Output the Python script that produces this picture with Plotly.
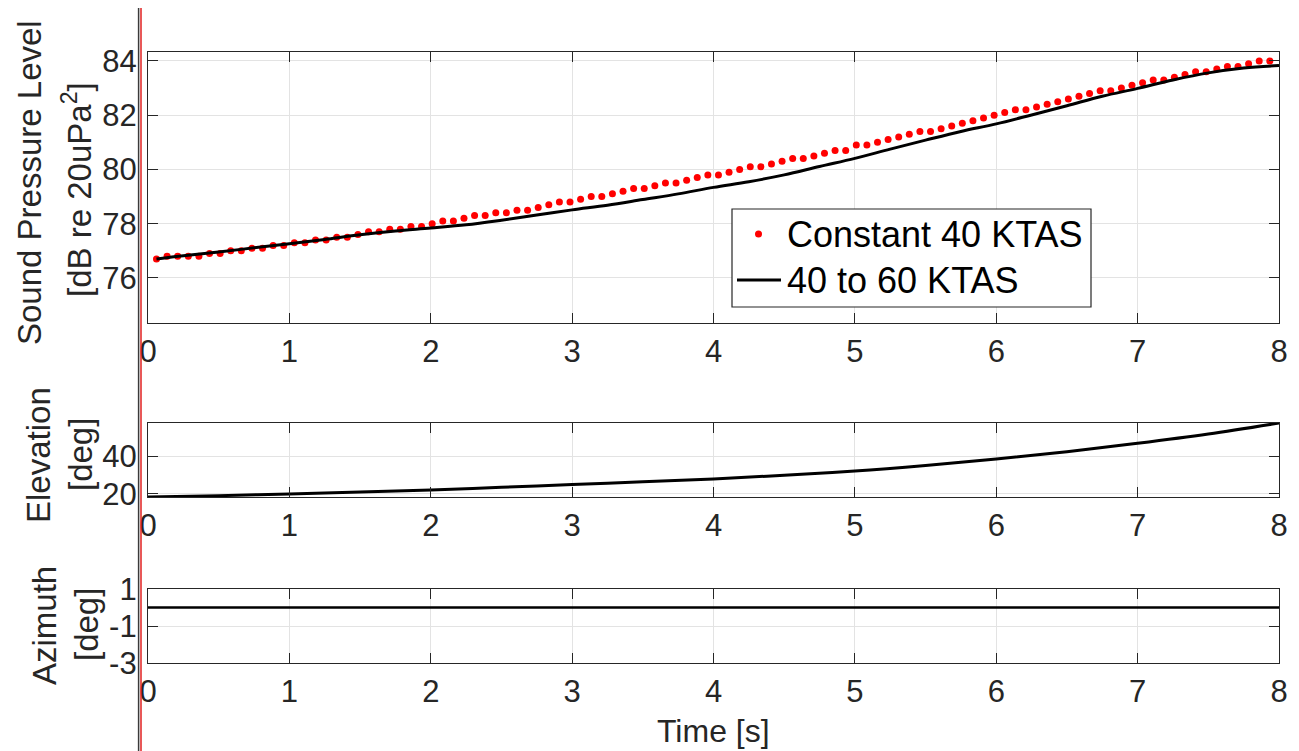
import plotly.graph_objects as go

# ---------------- data ----------------
t_const = [0.06, 0.135, 0.21, 0.285, 0.36, 0.435, 0.51, 0.585, 0.66, 0.735,
           0.81, 0.885, 0.96, 1.035, 1.11, 1.185, 1.26, 1.335, 1.41, 1.485,
           1.56, 1.635, 1.71, 1.785, 1.86, 1.935, 2.01, 2.085, 2.16, 2.235,
           2.31, 2.385, 2.46, 2.535, 2.61, 2.685, 2.76, 2.835, 2.91, 2.985,
           3.06, 3.135, 3.21, 3.285, 3.36, 3.435, 3.51, 3.585, 3.66, 3.735,
           3.81, 3.885, 3.96, 4.035, 4.11, 4.185, 4.26, 4.335, 4.41, 4.485,
           4.56, 4.635, 4.71, 4.785, 4.86, 4.935, 5.01, 5.085, 5.16, 5.235,
           5.31, 5.385, 5.46, 5.535, 5.61, 5.685, 5.76, 5.835, 5.91, 5.985,
           6.06, 6.135, 6.21, 6.285, 6.36, 6.435, 6.51, 6.585, 6.66, 6.735,
           6.81, 6.885, 6.96, 7.035, 7.11, 7.185, 7.26, 7.335, 7.41, 7.485,
           7.56, 7.635, 7.71, 7.785, 7.86, 7.935]
spl_const = [76.7, 76.8, 76.8, 76.8, 76.8, 76.9, 76.9, 77.0, 77.0, 77.1,
             77.1, 77.2, 77.2, 77.3, 77.3, 77.4, 77.4, 77.5, 77.5, 77.6,
             77.7, 77.7, 77.8, 77.8, 77.9, 77.9, 78.0, 78.1, 78.1, 78.2,
             78.3, 78.3, 78.4, 78.4, 78.5, 78.5, 78.6, 78.7, 78.8, 78.8,
             78.9, 79.0, 79.0, 79.1, 79.2, 79.3, 79.3, 79.4, 79.5, 79.5,
             79.6, 79.7, 79.8, 79.8, 79.9, 80.0, 80.1, 80.1, 80.2, 80.3,
             80.4, 80.4, 80.5, 80.6, 80.7, 80.7, 80.9, 80.9, 81.0, 81.1,
             81.2, 81.3, 81.4, 81.4, 81.5, 81.6, 81.7, 81.8, 81.9, 82.0,
             82.1, 82.2, 82.2, 82.3, 82.4, 82.5, 82.6, 82.7, 82.8, 82.9,
             82.9, 83.0, 83.1, 83.2, 83.3, 83.3, 83.4, 83.5, 83.6, 83.6,
             83.7, 83.8, 83.8, 83.9, 84.0, 84.0]

t_accel = [0.06, 0.25, 0.5, 0.75, 1.0, 1.25, 1.5, 1.75, 2.0, 2.25, 2.5,
           2.75, 3.0, 3.25, 3.5, 3.75, 4.0, 4.25, 4.5, 4.75, 5.0, 5.25,
           5.5, 5.75, 6.0, 6.25, 6.5, 6.75, 7.0, 7.25, 7.5, 7.75, 8.0]
spl_accel = [76.70, 76.82, 76.96, 77.11, 77.26, 77.42, 77.59, 77.73, 77.84,
             77.96, 78.13, 78.32, 78.51, 78.68, 78.89, 79.10, 79.34, 79.55,
             79.80, 80.11, 80.41, 80.75, 81.08, 81.40, 81.68, 82.01, 82.35,
             82.70, 82.99, 83.30, 83.56, 83.74, 83.83]

t_ang = [0.0, 0.5, 1.0, 1.5, 2.0, 2.5, 3.0, 3.5, 4.0, 4.5, 5.0, 5.5, 6.0,
         6.5, 7.0, 7.5, 8.0]
elevation = [18.4, 19.1, 20.0, 21.0, 22.1, 23.5, 25.0, 26.4, 27.9, 29.9,
             32.1, 35.0, 38.4, 42.3, 46.7, 51.6, 57.4]
t_az = [0.0, 8.0]
azimuth = [0.0, 0.0]

series_names = ["Constant 40 KTAS", "40 to 60 KTAS"]
x_ticks = [0, 1, 2, 3, 4, 5, 6, 7, 8]
spl_ticks = [76, 78, 80, 82, 84]
el_ticks = [20, 40]
az_ticks = [-3, -1, 1]
az_ticktext = ["-3", "-1", "1"]

# ---------------- layout helpers ----------------
W, H = 1299, 751
FONT = "Liberation Sans, Arial, Helvetica, sans-serif"
TXT = "#262626"
GRID = "#e3e3e3"
RED = "#ff0000"


def fx(px):
    return px / W


def fy(py):
    return 1 - py / H


x_dom = [fx(148), fx(1279)]

fig = go.Figure()

fig.add_trace(go.Scatter(
    x=t_const, y=spl_const, mode="markers", name=series_names[0],
    marker=dict(color=RED, size=7), xaxis="x", yaxis="y", showlegend=False))
fig.add_trace(go.Scatter(
    x=t_accel, y=spl_accel, mode="lines", name=series_names[1],
    line=dict(color="black", width=3, shape="spline"), xaxis="x", yaxis="y",
    showlegend=False))
fig.add_trace(go.Scatter(
    x=t_ang, y=elevation, mode="lines", showlegend=False,
    line=dict(color="black", width=3, shape="spline"), xaxis="x2", yaxis="y2"))
fig.add_trace(go.Scatter(
    x=t_az, y=azimuth, mode="lines", showlegend=False,
    line=dict(color="black", width=2.5), xaxis="x3", yaxis="y3"))


def xax(anchor):
    return dict(domain=x_dom, range=[0, 8], tickvals=x_ticks,
                ticks="inside", ticklen=10, tickcolor=TXT, tickwidth=1.2,
                showline=True, linecolor=TXT, linewidth=1.2, mirror="ticks",
                showgrid=True, gridcolor=GRID, gridwidth=1, zeroline=False,
                tickfont=dict(family=FONT, size=31, color=TXT),
                ticklabelstandoff=1, anchor=anchor, fixedrange=True,
                automargin=False)


def yax(anchor, dom, rng, tv, tt=None):
    d = dict(domain=dom, range=rng, tickvals=tv,
             ticks="inside", ticklen=10, tickcolor=TXT, tickwidth=1.2,
             showline=True, linecolor=TXT, linewidth=1.2, mirror="ticks",
             showgrid=True, gridcolor=GRID, gridwidth=1, zeroline=False,
             tickfont=dict(family=FONT, size=31, color=TXT),
             ticklabelstandoff=4, anchor=anchor, fixedrange=True,
             automargin=False)
    if tt is not None:
        d["ticktext"] = tt
    return d


annotations = []


def ytitle(text, xc, yc):
    annotations.append(dict(text=text, xref="paper", yref="paper",
                            x=fx(xc), y=fy(yc), xanchor="center",
                            yanchor="middle", textangle=-90, showarrow=False,
                            font=dict(family=FONT, size=33, color=TXT)))


ytitle("Sound Pressure Level", 29, 183)
ytitle("[dB re 20uPa<sup>2</sup>]", 77, 190)
ytitle("Elevation", 38, 455)
ytitle("[deg]", 80, 455)
ytitle("Azimuth", 44, 625)
ytitle("[deg]", 86, 625)
annotations.append(dict(text="Time [s]", xref="paper", yref="paper",
                        x=fx(713), y=fy(731), xanchor="center",
                        yanchor="middle", showarrow=False,
                        font=dict(family=FONT, size=32, color=TXT)))

# legend (drawn as a boxed key inside the top panel)
LEG_X0, LEG_X1, LEG_Y0, LEG_Y1 = 732, 1091, 209, 307
ROW1, ROW2 = 234, 280
for name, yrow in zip(series_names, [ROW1, ROW2]):
    annotations.append(dict(text=name, xref="paper", yref="paper",
                            x=fx(785), y=fy(yrow), xanchor="left",
                            yanchor="middle", showarrow=False,
                            font=dict(family=FONT, size=36, color="black")))

shapes = [
    dict(type="line", xref="paper", yref="paper", x0=fx(138.6), x1=fx(138.6),
         y0=0, y1=fy(8), line=dict(color="#3a3a3a", width=1.5)),
    dict(type="line", xref="paper", yref="paper", x0=fx(141), x1=fx(141),
         y0=0, y1=fy(8), line=dict(color="#e02020", width=1.5)),
    dict(type="rect", xref="paper", yref="paper", x0=fx(LEG_X0), x1=fx(LEG_X1),
         y0=fy(LEG_Y1), y1=fy(LEG_Y0), fillcolor="white",
         line=dict(color=TXT, width=1.2), layer="above"),
    dict(type="circle", xref="paper", yref="paper", x0=fx(755), x1=fx(762),
         y0=fy(ROW1 + 3.5), y1=fy(ROW1 - 3.5), fillcolor=RED,
         line=dict(color=RED, width=0), layer="above"),
    dict(type="line", xref="paper", yref="paper", x0=fx(737), x1=fx(781),
         y0=fy(ROW2), y1=fy(ROW2), line=dict(color="black", width=3),
         layer="above"),
]

fig.update_layout(
    template="none",
    width=W, height=H, margin=dict(l=0, r=0, t=0, b=0, pad=0),
    paper_bgcolor="white", plot_bgcolor="white",
    font=dict(family=FONT, color=TXT),
    xaxis=xax("y"),
    yaxis=yax("x", [fy(323), fy(52)], [74.34, 84.33], spl_ticks),
    xaxis2=xax("y2"),
    yaxis2=yax("x2", [fy(497), fy(423)], [18.4, 57.4], el_ticks),
    xaxis3=xax("y3"),
    yaxis3=yax("x3", [fy(663), fy(589)], [-3, 1], az_ticks, az_ticktext),
    annotations=annotations, shapes=shapes, showlegend=False,
)

fig.write_html("out.html")
